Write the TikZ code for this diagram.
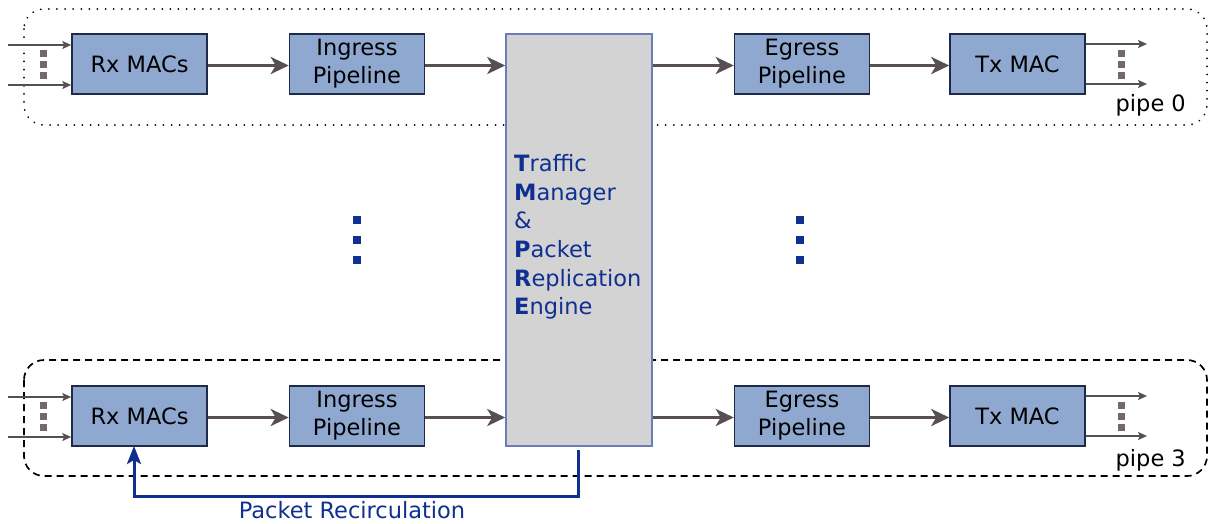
\documentclass[tikz,border=0pt]{standalone}
\usepackage{fontspec}
\setmainfont{DejaVu Sans}
\usetikzlibrary{arrows.meta}
\definecolor{boxfill}{HTML}{8FA8D0}
\definecolor{boxline}{HTML}{1F2A4A}
\definecolor{flow}{HTML}{584F52}
\definecolor{tmfill}{HTML}{D3D3D3}
\definecolor{tmline}{HTML}{6A7BB8}
\definecolor{navy}{HTML}{0F3090}
\tikzset{
  stage/.style={draw=boxline, line width=1.5pt, fill=boxfill, minimum width=135pt,
    minimum height=60pt, inner sep=0pt, align=center, font=\fontsize{22.5}{28}\selectfont},
  mainflow/.style={draw=flow, line width=3.8pt, -{Stealth[length=18pt,width=17pt,inset=5pt]}},
  portline/.style={draw=flow, line width=1.7pt, -{Stealth[length=9pt,width=8pt,inset=2pt]}},
  pipebox/.style={rounded corners=20pt},
  dotsq/.style={fill=#1, minimum size=7pt, inner sep=0pt},
  lbl/.style={font=\fontsize{22.5}{28}\selectfont, inner sep=0pt},
}
\begin{document}
\begin{tikzpicture}[x=1pt, y=-1pt]
\useasboundingbox (0,0) rectangle (1211,523);

% pipe outlines
\draw[pipebox, line width=1.9pt, line cap=round, dash pattern=on 0.1pt off 8pt] (24,9) rectangle (1207,125);
\draw[pipebox, line width=1.7pt, dash pattern=on 7pt off 5pt] (24,360) rectangle (1207,476);

% traffic manager block
\node[draw=tmline, line width=1.5pt, fill=tmfill, minimum width=146pt, minimum height=412pt,
  inner sep=0pt] (tm) at (579,240) {};
\node[lbl, anchor=north west, align=left, text=navy, font=\fontsize{22.5}{28.7}\selectfont] (tmtext) at (514,154)
  {\textbf{T}raffic\\ \textbf{M}anager\\ \&\\ \textbf{P}acket\\ \textbf{R}eplication\\ \textbf{E}ngine};

% pipe 0
\node[stage] (rx0) at (139.5,64) {Rx MACs};
\node[stage] (ing0) at (357,64) {Ingress\\Pipeline};
\node[stage] (eg0) at (802,64) {Egress\\Pipeline};
\node[stage] (tx0) at (1017.5,64) {Tx MAC};
\node[lbl, anchor=east] (p0) at (1186,105) {pipe 0};

% pipe 3
\node[stage] (rx3) at (139.5,416) {Rx MACs};
\node[stage] (ing3) at (357,416) {Ingress\\Pipeline};
\node[stage] (eg3) at (802,416) {Egress\\Pipeline};
\node[stage] (tx3) at (1017.5,416) {Tx MAC};
\node[lbl, anchor=east] (p3) at (1186,460) {pipe 3};

% main data flow, slightly below the box centre line
\foreach \p in {0,3}{
  \draw[mainflow] ([yshift=-1.5pt]rx\p.east) -- ([yshift=-1.5pt]ing\p.west);
  \draw[mainflow] ([yshift=-1.5pt]ing\p.east) -- ([yshift=-1.5pt]ing\p.east -| tm.west);
  \draw[mainflow] ([yshift=-1.5pt]tm.east |- eg\p.west) -- ([yshift=-1.5pt]eg\p.west);
  \draw[mainflow] ([yshift=-1.5pt]eg\p.east) -- ([yshift=-1.5pt]tx\p.west);
}

% port lines in and out
\foreach \p in {0,3}{
  \coordinate (in\p a) at ([yshift=-21pt]rx\p.west -| 8,0);
  \coordinate (in\p b) at ([yshift=19pt]rx\p.west -| 8,0);
  \draw[portline] (in\p a) -- (in\p a -| rx\p.west);
  \draw[portline] (in\p b) -- (in\p b -| rx\p.west);
  \coordinate (out\p a) at ([yshift=-20pt]tx\p.east -| 1147,0);
  \coordinate (out\p b) at ([yshift=20pt]tx\p.east -| 1147,0);
  \draw[portline] (out\p a -| tx\p.east) -- (out\p a);
  \draw[portline] (out\p b -| tx\p.east) -- (out\p b);
  \foreach \dy [count=\k] in {-11,0,11}{
    \node[dotsq=flow!85!white] (din\p\k) at ([yshift=\dy pt]rx\p.west -| 43,0) {};
    \node[dotsq=flow!85!white] (dout\p\k) at ([yshift=\dy pt]tx\p.east -| 1121,0) {};
  }
}

% ellipsis between pipes
\foreach \y [count=\k] in {220,240,260}{
  \node[dotsq=navy, minimum size=8pt] (vl\k) at (357,\y) {};
  \node[dotsq=navy, minimum size=8pt] (vr\k) at (800,\y) {};
}

% recirculation path
\coordinate (rcstart) at (578,450);
\coordinate (rcend) at (134,446);
\draw[navy, line width=3pt, -{Stealth[length=18pt,width=14pt,inset=4pt]}]
  (rcstart) |- (134,496) -- (rcend);
\node[lbl, text=navy] (rclbl) at (352,510) {Packet Recirculation};
\end{tikzpicture}
\end{document}
